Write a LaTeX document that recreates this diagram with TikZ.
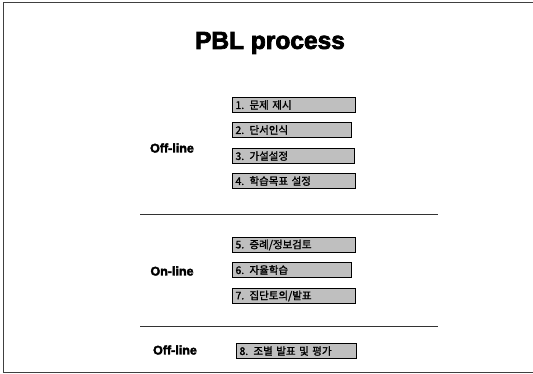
\documentclass[tikz,border=0pt]{standalone}
\usepackage{fontspec}
\setmainfont{Liberation Sans}
\newfontfamily\heavyfont[FakeBold=3]{Liberation Sans Bold}
\newfontfamily\krfont[FakeBold=1.5]{Noto Sans CJK KR}
\begin{document}
\begin{tikzpicture}[x=1pt,y=-1pt,
  stepbox/.style={draw=black, line width=1pt, fill=black!25, minimum height=15pt,
    text width=117pt, inner xsep=3pt, inner ysep=0pt, align=left, anchor=west,
    font=\krfont\fontsize{10.5}{11}\selectfont},
  phase/.style={font=\heavyfont\fontsize{12.5}{14}\selectfont},
  sepline/.style={line width=0.8pt, black!80}]
\useasboundingbox (0,0) rectangle (533,374);
% frame
\draw[line width=1pt, black!75] (533,3) -- (3,3) -- (3,372.5) -- (533,372.5);
% title
\node[font=\heavyfont\fontsize{24.5}{28}\selectfont] (title) at (270,43) {PBL process};
% phases
\node[phase] (off1) at (172,148) {Off-line};
\node[phase] (on) at (172,271) {On-line};
\node[phase] (off2) at (175,350) {Off-line};
% boxes
\node[stepbox] (s1) at (232,105) {1. 문제 제시};
\node[stepbox, text width=113pt] (s2) at (232,130) {2. 단서인식};
\node[stepbox, text width=116pt] (s3) at (232,156) {3. 가설설정};
\node[stepbox] (s4) at (232,181) {4. 학습목표 설정};
\node[stepbox] (s5) at (232,245) {5. 증례/정보검토};
\node[stepbox, text width=113pt] (s6) at (232,270) {6. 자율학습};
\node[stepbox, text width=117pt] (s7) at (232,296) {7. 집단토의/발표};
\node[stepbox, text width=114pt] (s8) at (236,351) {8. 조별 발표 및 평가};
% separators
\coordinate (l1a) at (140,214); \coordinate (l1b) at (438,214);
\coordinate (l2a) at (140,326); \coordinate (l2b) at (438,326);
\draw[sepline] (l1a) -- (l1b);
\draw[sepline] (l2a) -- (l2b);
\end{tikzpicture}
\end{document}
